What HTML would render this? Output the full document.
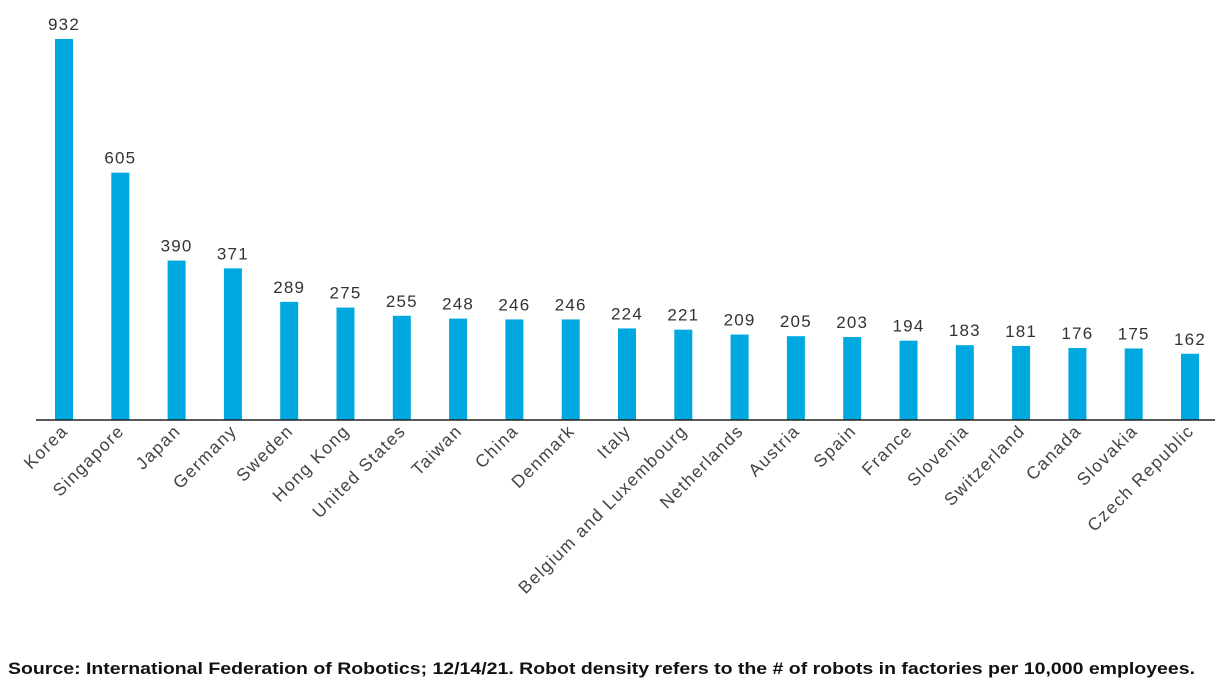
<!DOCTYPE html>
<html><head><meta charset="utf-8"><style>
body{margin:0;background:#fff;width:1225px;height:693px;overflow:hidden;font-family:"Liberation Sans",sans-serif}
</style></head><body>
<svg width="1225" height="693">
<g id="bars"></g>
<line x1="36" y1="420" x2="1215" y2="420" stroke="#222" stroke-width="1.5"/>
<text x="8" y="674" font-size="17" font-weight="bold" fill="#111" textLength="1187" lengthAdjust="spacingAndGlyphs">Source: International Federation of Robotics; 12/14/21. Robot density refers to the # of robots in factories per 10,000 employees.</text>
</svg>
<script>
const categories=["Korea","Singapore","Japan","Germany","Sweden","Hong Kong","United States","Taiwan","China","Denmark","Italy","Belgium and Luxembourg","Netherlands","Austria","Spain","France","Slovenia","Switzerland","Canada","Slovakia","Czech Republic"];
const values=[932,605,390,371,289,275,255,248,246,246,224,221,209,205,203,194,183,181,176,175,162];
const ns="http://www.w3.org/2000/svg";
const g=document.getElementById("bars");
const x0=64,step=56.3,base=420,k=0.4088,bw=18;
function xs(i){return x0+i*step;}
function ys(v){return base-v*k;}
categories.forEach((c,i)=>{
 const cx=xs(i),y=ys(values[i]);
 const r=document.createElementNS(ns,"rect");
 r.setAttribute("x",cx-bw/2);r.setAttribute("y",y);r.setAttribute("width",bw);r.setAttribute("height",base-y);r.setAttribute("fill","#00a8e0");
 
 
 g.appendChild(r);
 const t=document.createElementNS(ns,"text");
 t.setAttribute("x",cx);t.setAttribute("y",y-9);t.setAttribute("text-anchor","middle");t.setAttribute("font-size","17");t.setAttribute("letter-spacing","1.2");t.setAttribute("fill","#333");
 t.textContent=values[i];
 
 
 g.appendChild(t);
 const l=document.createElementNS(ns,"text");
 l.setAttribute("transform","translate("+(cx+5)+",432) rotate(-45)");
 l.setAttribute("text-anchor","end");l.setAttribute("font-size","17.5");l.setAttribute("letter-spacing","1.4");l.setAttribute("fill","#444");
 l.textContent=c;
 
 
 g.appendChild(l);
});
</script>
</body></html>
